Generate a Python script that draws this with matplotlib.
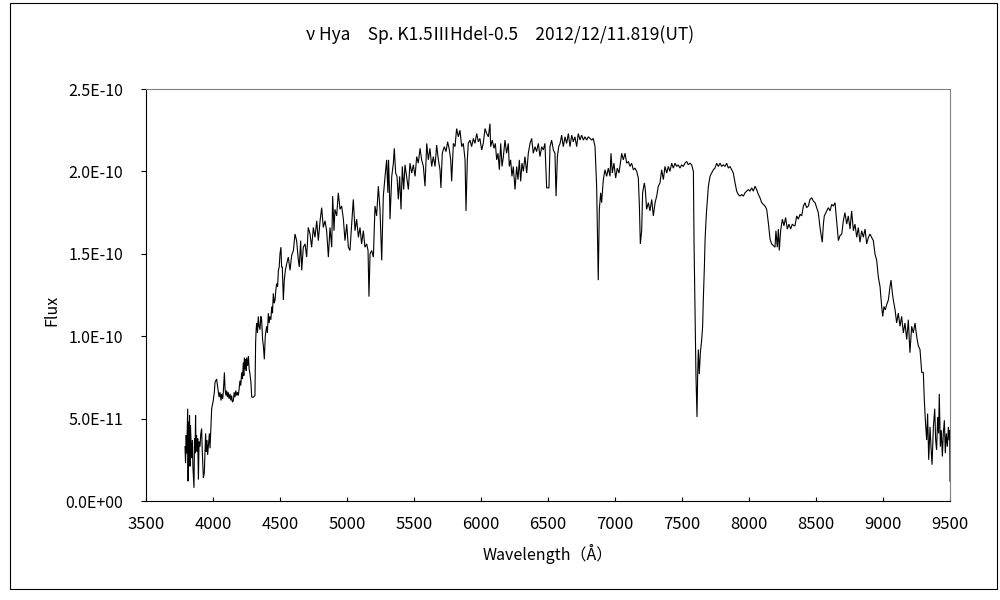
import numpy as np
import matplotlib
matplotlib.use("Agg")
import matplotlib.pyplot as plt
from matplotlib.ticker import FuncFormatter, MultipleLocator
from matplotlib.patches import Rectangle

plt.rcParams['font.family'] = ['Noto Sans CJK JP', 'DejaVu Sans']

title = "ν Hya\u3000Sp. K1.5ⅢHdel-0.5\u30002012/12/11.819(UT)"
x_label = "Wavelength（Å）"
y_label = "Flux"

wavelength = [
    3791, 3795, 3800, 3804, 3808, 3811, 3814, 3818, 3821, 3825, 3828, 3832, 3836, 3840, 3846, 3850,
    3858, 3862, 3866, 3870, 3873, 3877, 3881, 3886, 3891, 3896, 3903, 3908, 3915, 3920, 3928, 3935,
    3940, 3945, 3950, 3955, 3960, 3965, 3973, 3978, 3990, 4002, 4010, 4015, 4027, 4035, 4045, 4052,
    4060, 4065, 4072, 4077, 4085, 4090, 4096, 4102, 4108, 4114, 4120, 4127, 4133, 4139, 4145, 4152,
    4158, 4164, 4170, 4177, 4183, 4189, 4195, 4201, 4207, 4214, 4220, 4226, 4230, 4234, 4240, 4244,
    4248, 4251, 4258, 4264, 4270, 4276, 4283, 4289, 4301, 4313, 4318, 4322, 4326, 4332, 4338, 4344,
    4351, 4357, 4363, 4370, 4376, 4383, 4390, 4400, 4406, 4413, 4419, 4425, 4432, 4438, 4444, 4450,
    4457, 4463, 4469, 4475, 4482, 4488, 4494, 4500, 4507, 4512, 4517, 4525, 4532, 4540, 4550, 4562,
    4575, 4587, 4600, 4612, 4624, 4637, 4644, 4654, 4662, 4674, 4687, 4699, 4711, 4724, 4736, 4749,
    4761, 4774, 4786, 4799, 4811, 4823, 4836, 4848, 4861, 4873, 4886, 4893, 4903, 4910, 4923, 4935,
    4948, 4960, 4973, 4985, 4998, 5010, 5022, 5035, 5047, 5060, 5072, 5085, 5097, 5109, 5122, 5134,
    5147, 5157, 5164, 5172, 5184, 5197, 5209, 5221, 5234, 5246, 5259, 5271, 5284, 5296, 5305, 5310,
    5316, 5321, 5334, 5346, 5353, 5363, 5373, 5383, 5393, 5403, 5413, 5423, 5433, 5445, 5458, 5470,
    5483, 5495, 5508, 5520, 5532, 5545, 5557, 5570, 5582, 5595, 5607, 5619, 5632, 5644, 5657, 5669,
    5682, 5694, 5701, 5711, 5726, 5739, 5751, 5764, 5774, 5781, 5794, 5806, 5818, 5831, 5843, 5856,
    5868, 5881, 5888, 5898, 5905, 5918, 5930, 5943, 5955, 5968, 5980, 5992, 6005, 6017, 6030, 6042,
    6055, 6067, 6072, 6084, 6097, 6107, 6117, 6127, 6137, 6147, 6157, 6167, 6179, 6191, 6204, 6211,
    6221, 6231, 6241, 6254, 6266, 6276, 6286, 6296, 6306, 6316, 6328, 6341, 6353, 6366, 6378, 6390,
    6403, 6415, 6428, 6440, 6453, 6465, 6477, 6490, 6507, 6515, 6527, 6540, 6552, 6560, 6570, 6580,
    6590, 6602, 6614, 6627, 6639, 6652, 6664, 6677, 6689, 6701, 6714, 6726, 6739, 6751, 6764, 6776,
    6789, 6801, 6813, 6826, 6838, 6851, 6863, 6875, 6883, 6893, 6900, 6913, 6925, 6938, 6950, 6963,
    6970, 6980, 6992, 7005, 7017, 7030, 7042, 7050, 7062, 7075, 7087, 7100, 7112, 7124, 7137, 7149,
    7162, 7174, 7182, 7189, 7199, 7206, 7219, 7226, 7236, 7249, 7261, 7274, 7286, 7299, 7311, 7323,
    7336, 7348, 7361, 7373, 7386, 7398, 7410, 7423, 7435, 7448, 7460, 7472, 7485, 7497, 7510, 7522,
    7535, 7547, 7560, 7572, 7585, 7590, 7597, 7604, 7612, 7617, 7622, 7629, 7637, 7647, 7654, 7659,
    7667, 7672, 7679, 7684, 7697, 7709, 7721, 7734, 7746, 7759, 7771, 7784, 7796, 7808, 7821, 7833,
    7846, 7858, 7871, 7883, 7896, 7908, 7920, 7933, 7945, 7958, 7970, 7983, 7995, 8007, 8020, 8032,
    8045, 8057, 8070, 8082, 8095, 8107, 8119, 8132, 8144, 8157, 8169, 8182, 8194, 8201, 8211, 8219,
    8226, 8236, 8249, 8261, 8273, 8286, 8298, 8311, 8323, 8336, 8343, 8356, 8368, 8381, 8393, 8406,
    8418, 8430, 8443, 8455, 8468, 8480, 8493, 8505, 8517, 8530, 8537, 8547, 8555, 8562, 8580, 8592,
    8605, 8617, 8629, 8642, 8654, 8667, 8679, 8692, 8704, 8716, 8729, 8741, 8754, 8766, 8779, 8791,
    8804, 8816, 8828, 8841, 8853, 8866, 8878, 8891, 8903, 8915, 8928, 8940, 8953, 8965, 8978, 8990,
    8998, 9007, 9017, 9027, 9040, 9052, 9060, 9070, 9077, 9090, 9102, 9114, 9127, 9139, 9152, 9164,
    9177, 9189, 9201, 9214, 9226, 9239, 9251, 9264, 9276, 9289, 9301, 9308, 9316, 9326, 9333, 9341,
    9351, 9358, 9366, 9376, 9386, 9393, 9400, 9408, 9415, 9420, 9428, 9435, 9443, 9450, 9458, 9465,
    9472, 9480, 9488, 9495, 9498, 9500,
]

# flux in units of 1E-10
flux_e10 = [
    0.33, 0.23, 0.40, 0.29, 0.45, 0.56, 0.12, 0.48, 0.30, 0.52, 0.21, 0.46, 0.36, 0.26, 0.37, 0.21,
    0.08, 0.38, 0.29, 0.52, 0.33, 0.40, 0.30, 0.38, 0.13, 0.36, 0.33, 0.40, 0.44, 0.30, 0.14, 0.17,
    0.30, 0.41, 0.30, 0.37, 0.28, 0.33, 0.41, 0.32, 0.56, 0.61, 0.66, 0.72, 0.74, 0.69, 0.63, 0.66,
    0.61, 0.65, 0.62, 0.66, 0.78, 0.68, 0.64, 0.67, 0.63, 0.66, 0.62, 0.65, 0.61, 0.64, 0.60, 0.61,
    0.66, 0.63, 0.67, 0.64, 0.66, 0.64, 0.68, 0.73, 0.70, 0.78, 0.74, 0.84, 0.76, 0.87, 0.80, 0.86,
    0.79, 0.87, 0.82, 0.88, 0.80, 0.77, 0.72, 0.63, 0.63, 0.64, 0.96, 1.04, 1.08, 1.02, 1.12, 1.06,
    1.04, 1.12, 1.10, 0.98, 0.94, 0.86, 1.00, 1.06, 1.02, 1.14, 1.08, 1.12, 1.10, 1.18, 1.14, 1.26,
    1.20, 1.22, 1.28, 1.32, 1.30, 1.40, 1.42, 1.50, 1.54, 1.42, 1.42, 1.22, 1.34, 1.40, 1.44, 1.48,
    1.40, 1.49, 1.52, 1.62, 1.58, 1.46, 1.42, 1.58, 1.40, 1.54, 1.56, 1.48, 1.66, 1.62, 1.54, 1.66,
    1.60, 1.70, 1.58, 1.70, 1.78, 1.66, 1.70, 1.64, 1.48, 1.66, 1.54, 1.85, 1.64, 1.77, 1.73, 1.87,
    1.77, 1.79, 1.71, 1.58, 1.68, 1.54, 1.52, 1.68, 1.83, 1.64, 1.71, 1.60, 1.66, 1.56, 1.64, 1.54,
    1.56, 1.52, 1.24, 1.50, 1.52, 1.48, 1.79, 1.73, 1.91, 1.77, 1.46, 1.85, 1.97, 2.07, 1.87, 2.07,
    1.91, 1.71, 1.97, 2.05, 2.14, 1.99, 1.97, 1.83, 1.97, 1.77, 2.03, 1.89, 2.04, 1.97, 1.89, 2.05,
    1.99, 2.04, 1.97, 2.09, 2.05, 2.14, 2.07, 2.03, 1.91, 2.17, 2.07, 2.14, 2.03, 2.09, 2.03, 2.16,
    2.07, 2.01, 1.90, 2.11, 2.15, 2.12, 2.18, 2.13, 2.07, 1.94, 2.17, 2.15, 2.26, 2.21, 2.25, 2.15,
    2.17, 2.07, 1.76, 2.07, 2.17, 2.19, 2.15, 2.20, 2.17, 2.23, 2.18, 2.20, 2.13, 2.17, 2.26, 2.23,
    2.21, 2.29, 2.15, 2.19, 2.14, 2.17, 2.07, 2.11, 2.01, 2.17, 2.03, 2.09, 2.19, 2.11, 2.17, 2.03,
    2.07, 1.97, 2.03, 1.89, 2.03, 1.95, 2.07, 1.94, 2.05, 2.00, 2.09, 1.99, 2.11, 2.17, 2.20, 2.11,
    2.15, 2.12, 2.17, 2.09, 2.15, 2.13, 2.17, 1.90, 1.90, 2.15, 2.19, 2.13, 2.11, 1.85, 2.09, 2.15,
    2.17, 2.22, 2.15, 2.21, 2.17, 2.23, 2.15, 2.22, 2.18, 2.21, 2.15, 2.23, 2.19, 2.22, 2.19, 2.21,
    2.19, 2.21, 2.20, 2.19, 2.20, 2.15, 1.91, 1.34, 1.77, 1.87, 1.81, 1.95, 2.01, 1.97, 2.02, 1.97,
    2.11, 1.99, 2.05, 1.96, 2.02, 1.99, 2.06, 2.11, 2.07, 2.11, 2.05, 2.06, 2.03, 2.05, 2.01, 2.02,
    2.00, 1.96, 1.79, 1.56, 1.64, 1.87, 1.93, 1.89, 1.77, 1.81, 1.76, 1.83, 1.73, 1.81, 1.85, 1.91,
    1.93, 2.01, 1.95, 2.03, 1.99, 2.03, 2.00, 2.05, 2.02, 2.05, 2.03, 2.04, 2.02, 2.04, 2.03, 2.05,
    2.06, 2.04, 2.05, 2.04, 2.00, 1.56, 1.18, 0.77, 0.51, 0.77, 0.92, 0.77, 0.90, 0.98, 1.06, 1.22,
    1.42, 1.58, 1.70, 1.77, 1.91, 1.97, 1.99, 2.01, 2.02, 2.05, 2.03, 2.05, 2.03, 2.04, 2.03, 2.05,
    2.02, 2.03, 2.01, 1.99, 1.93, 1.88, 1.86, 1.85, 1.86, 1.85, 1.87, 1.88, 1.89, 1.88, 1.90, 1.88,
    1.91, 1.89, 1.86, 1.84, 1.81, 1.80, 1.79, 1.77, 1.69, 1.59, 1.56, 1.55, 1.54, 1.64, 1.54, 1.65,
    1.52, 1.64, 1.71, 1.67, 1.72, 1.65, 1.68, 1.65, 1.68, 1.67, 1.67, 1.73, 1.71, 1.74, 1.73, 1.79,
    1.81, 1.78, 1.79, 1.83, 1.84, 1.82, 1.81, 1.78, 1.75, 1.66, 1.62, 1.57, 1.68, 1.73, 1.76, 1.78,
    1.76, 1.80, 1.79, 1.81, 1.70, 1.58, 1.61, 1.62, 1.70, 1.75, 1.68, 1.73, 1.65, 1.76, 1.64, 1.68,
    1.60, 1.66, 1.57, 1.64, 1.60, 1.65, 1.56, 1.60, 1.62, 1.60, 1.58, 1.50, 1.46, 1.36, 1.30, 1.18,
    1.12, 1.18, 1.16, 1.19, 1.22, 1.30, 1.34, 1.26, 1.22, 1.16, 1.08, 1.14, 1.06, 1.12, 1.02, 1.08,
    0.98, 1.10, 0.90, 1.06, 1.02, 1.08, 1.00, 0.94, 0.92, 0.78, 0.78, 0.62, 0.49, 0.37, 0.53, 0.25,
    0.45, 0.33, 0.22, 0.45, 0.56, 0.37, 0.31, 0.51, 0.41, 0.65, 0.33, 0.43, 0.27, 0.41, 0.49, 0.29,
    0.41, 0.33, 0.45, 0.37, 0.43, 0.12,
]

x_ticks = [3500, 4000, 4500, 5000, 5500, 6000, 6500, 7000, 7500, 8000, 8500, 9000, 9500]

wl = np.array(wavelength, dtype=float)
flux = np.array(flux_e10) * 1e-10

W, H = 1000, 600
fig = plt.figure(figsize=(10, 6), dpi=100)
fig.patch.set_facecolor('white')
ax = fig.add_axes([146 / W, (H - 501) / H, 804 / W, 412 / H])

ax.plot(wl, flux, color='black', linewidth=0.8, solid_joinstyle='miter')

ax.set_xlim(3500, 9500)
ax.set_ylim(0, 2.5e-10)
ax.set_xticks(x_ticks)
ax.yaxis.set_major_locator(MultipleLocator(0.5e-10))
ax.yaxis.set_major_formatter(FuncFormatter(lambda v, p: f"{v:.1E}"))

for s in ['top', 'right']:
    ax.spines[s].set_color('#808080')
    ax.spines[s].set_linewidth(0.8)
for s in ['left', 'bottom']:
    ax.spines[s].set_color('black')
    ax.spines[s].set_linewidth(0.8)

ax.tick_params(axis='y', direction='out', length=3.6, width=0.8, color='black',
               labelsize=11.5, pad=13)
ax.tick_params(axis='x', direction='in', length=3.0, width=0.8, color='black',
               labelsize=12, pad=11)

ax.set_xlabel(x_label, fontsize=11.5, labelpad=8)
fig.text(52 / W, 1 - 310 / H, y_label, rotation=90, ha='center', va='center', fontsize=11.5)

fig.text(0.5, 1 - 35 / H, title, ha='center', va='center', fontsize=12.5)

fig.add_artist(Rectangle((10 / W, 11 / H), 987 / W, 586 / H, transform=fig.transFigure,
                         fill=False, edgecolor='black', linewidth=0.8))

fig.savefig('out.png', dpi=100, facecolor='white')
